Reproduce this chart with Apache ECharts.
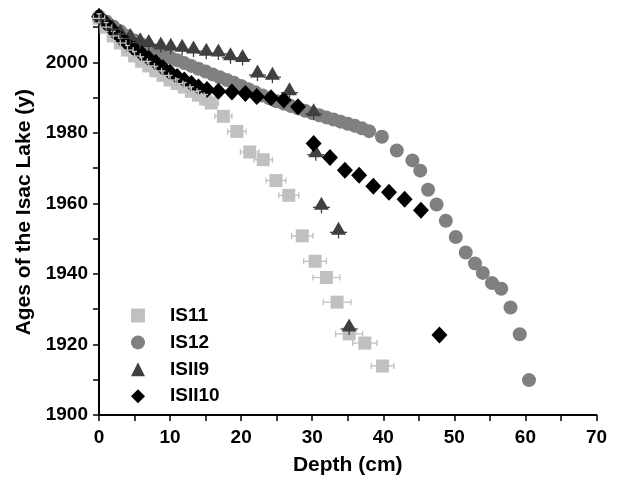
<!DOCTYPE html>
<html>
<head>
<meta charset="utf-8">
<script src="https://cdn.jsdelivr.net/npm/echarts@6/dist/echarts.min.js"></script>
<style>html,body{margin:0;padding:0;background:#fff}#c{width:619px;height:481px}</style>
</head>
<body>
<div id="c"></div>
<script>
// ---- Data ----
const seriesNames = ['IS11', 'IS12', 'ISII9', 'ISII10'];

const is11Depth = [0, 1, 2, 3, 4, 5, 6, 7, 8, 9, 10, 11, 12, 13, 14, 15, 15.8, 17.5, 19.4, 21.2, 23.1, 24.9, 26.7, 28.6, 30.4, 32.0, 33.5, 35.2, 37.4, 39.9];
const is11Age   = [2012.5, 2010, 2007.5, 2005.5, 2003.5, 2001.8, 2000.3, 1999, 1997.6, 1996.3, 1995, 1994, 1993, 1991.8, 1990.7, 1989.6, 1988.5, 1984.7, 1980.4, 1974.6, 1972.4, 1966.5, 1962.3, 1950.8, 1943.6, 1939, 1932, 1923, 1920.4, 1913.9];
const is11DepthErr = [0.8, 0.8, 0.8, 0.8, 0.8, 0.8, 0.8, 0.8, 0.8, 0.8, 0.8, 0.8, 0.8, 0.8, 0.8, 0.8, 1.0, 1.2, 1.3, 1.3, 1.3, 1.4, 1.4, 1.5, 1.6, 1.9, 1.95, 1.9, 1.7, 1.6];
const is11AgeErr   = [1.3, 1.3, 1.3, 1.3, 1.3, 1.3, 1.3, 1.3, 1.3, 1.3, 1.3, 1.3, 1.3, 1.3, 1.3, 1.3, 1.0, 0, 0, 0, 0, 0, 0, 0, 0, 0, 0, 0, 0, 0];

const is12Depth = [0, 1, 2, 3, 4, 5, 6, 7, 8, 9, 10, 11, 12, 13, 14, 15, 16, 17, 18, 19, 20, 21, 22, 23, 24, 25, 26, 27, 28, 29, 30, 31, 32, 33, 34, 35, 36, 37, 38, 39.8, 41.9, 44.1, 45.2, 46.3, 47.5, 48.8, 50.2, 51.6, 52.9, 54.0, 55.3, 56.6, 57.9, 59.2, 60.5];
const is12Age   = [2013, 2011.6, 2010.2, 2008.8, 2007.5, 2006.2, 2005.1, 2004.1, 2003.2, 2002.3, 2001.4, 2000.6, 1999.8, 1999, 1998.2, 1997.4, 1996.6, 1995.8, 1995, 1994.2, 1993.3, 1992.4, 1991.5, 1990.6, 1989.8, 1989, 1988.3, 1987.6, 1987, 1986.3, 1985.6, 1985, 1984.4, 1983.8, 1983.2, 1982.6, 1982, 1981.3, 1980.5, 1978.9, 1975, 1972.2, 1969.3, 1963.9, 1959.7, 1955.1, 1950.5, 1946.1, 1943, 1940.3, 1937.4, 1935.8, 1930.5, 1922.9, 1909.9];

const isii9Depth = [0.3, 1.9, 3.0, 4.4, 5.8, 7.0, 8.7, 10.1, 11.7, 13.3, 15.1, 16.8, 18.5, 20.2, 22.3, 24.4, 26.8, 30.2, 30.5, 31.3, 33.7, 35.2];
const isii9Age   = [2012.1, 2009.4, 2008, 2006.8, 2005.6, 2005.1, 2004.4, 2004, 2003.7, 2003.2, 2002.6, 2002.4, 2001.3, 2000.8, 1996.4, 1995.8, 1991.4, 1985.4, 1973.8, 1958.9, 1951.8, 1924.4];
const isii9DepthErr = [1.2, 1.2, 1.2, 1.2, 1.2, 1.2, 1.2, 1.2, 1.2, 1.2, 1.2, 1.2, 1.2, 1.2, 1.2, 1.2, 1.2, 1.2, 1.2, 1.2, 1.2, 1.2];
const isii9AgeErr   = [1.7, 1.7, 1.7, 1.7, 1.7, 1.7, 1.7, 1.7, 1.7, 1.7, 1.7, 1.7, 1.7, 1.7, 1.7, 1.7, 1.7, 1.7, 1.7, 1.7, 1.7, 1.7];

const isii10Depth = [0, 1, 2, 3, 4, 5, 6, 7, 8, 9, 10, 11, 12, 13, 14, 15.2, 16.8, 18.7, 20.6, 22.2, 24.2, 26.0, 28.0, 30.2, 32.5, 34.6, 36.6, 38.6, 40.8, 43.0, 45.3, 47.9];
const isii10Age   = [2013, 2011, 2009, 2007, 2005.3, 2003.8, 2002.5, 2001.2, 2000, 1998.5, 1997.2, 1996, 1995, 1994, 1993, 1992.3, 1991.8, 1991.6, 1991.2, 1990.3, 1990, 1989.3, 1987.4, 1977, 1973, 1969.4, 1968, 1964.9, 1963.2, 1961.2, 1958.1, 1922.7];

const xTickStep = 5;
const xLabelStep = 10;
const yTicks  = [1900, 1910, 1920, 1930, 1940, 1950, 1960, 1970, 1980, 1990, 2000, 2010];
const yLabels = [1900, 1920, 1940, 1960, 1980, 2000];

// ---- Build ----
const zip = (a, b) => a.map((v, i) => [v, b[i]]);
const zipErr = (a, b, ea, eb) => a.map((v, i) => [v, b[i], ea[i], eb[i]]);

function errRenderer(color, capX, capY) {
  return function (params, api) {
    const x = api.value(0), y = api.value(1), ex = api.value(2), ey = api.value(3);
    const style = { stroke: color, lineWidth: 1.3 };
    const kids = [];
    if (ex > 0) {
      const l = api.coord([x - ex, y]), r = api.coord([x + ex, y]);
      kids.push({ type: 'line', shape: { x1: l[0], y1: l[1], x2: r[0], y2: r[1] }, style });
      if (capX) {
        kids.push({ type: 'line', shape: { x1: l[0], y1: l[1] - capX, x2: l[0], y2: l[1] + capX }, style });
        kids.push({ type: 'line', shape: { x1: r[0], y1: r[1] - capX, x2: r[0], y2: r[1] + capX }, style });
      }
    }
    if (ey > 0) {
      const t = api.coord([x, y + ey]), b = api.coord([x, y - ey]);
      kids.push({ type: 'line', shape: { x1: t[0], y1: t[1], x2: b[0], y2: b[1] }, style });
      if (capY) {
        kids.push({ type: 'line', shape: { x1: t[0] - capY, y1: t[1], x2: t[0] + capY, y2: t[1] }, style });
        kids.push({ type: 'line', shape: { x1: b[0] - capY, y1: b[1], x2: b[0] + capY, y2: b[1] }, style });
      }
    }
    return { type: 'group', children: kids };
  };
}

const FONT = 'Liberation Sans, Arial, sans-serif';
const cIS11 = '#c0c0c0', cIS12 = '#808080', cISII9 = '#404040', cISII10 = '#000000';

const chart = echarts.init(document.getElementById('c'), null, { renderer: 'canvas' });
chart.setOption({
  animation: false,
  backgroundColor: '#ffffff',
  grid: { left: 99, right: 22.5, top: 9.5, bottom: 65.5, containLabel: false },
  legend: {
    orient: 'vertical', left: 131, top: 306, padding: 0,
    itemWidth: 14, itemHeight: 14, itemGap: 7.9,
    data: seriesNames,
    textStyle: { fontFamily: FONT, fontWeight: 'bold', fontSize: 19, color: '#000', padding: [0, 0, 0, 20] }
  },
  xAxis: {
    type: 'value', min: 0, max: 70, interval: xTickStep,
    name: 'Depth (cm)', nameLocation: 'middle', nameGap: 40,
    nameTextStyle: { fontFamily: FONT, fontWeight: 'bold', fontSize: 21, color: '#000' },
    axisLine: { show: true, onZero: false, lineStyle: { color: '#000', width: 2 } },
    axisTick: { show: true, inside: false, length: 6, lineStyle: { color: '#000', width: 1.5 } },
    axisLabel: { margin: 13, fontFamily: FONT, fontWeight: 'bold', fontSize: 19, color: '#000',
      formatter: v => (v % xLabelStep === 0 ? String(v) : '') },
    splitLine: { show: false }
  },
  yAxis: {
    type: 'value', min: 1900, max: 2015,
    name: 'Ages of the Isac Lake (y)', nameLocation: 'middle', nameGap: 52,
    nameTextStyle: { fontFamily: FONT, fontWeight: 'bold', fontSize: 21, color: '#000' },
    axisLine: { show: true, onZero: false, lineStyle: { color: '#000', width: 2 } },
    axisTick: { show: true, inside: false, length: 6, customValues: yTicks, lineStyle: { color: '#000', width: 1.5 } },
    axisLabel: { margin: 11, customValues: yLabels, fontFamily: FONT, fontWeight: 'bold', fontSize: 19, color: '#000',
      formatter: v => String(v) },
    splitLine: { show: false }
  },
  series: [
    { name: 'IS12', type: 'scatter', symbol: 'circle', symbolSize: 14, z: 2,
      itemStyle: { color: cIS12, opacity: 1 }, data: zip(is12Depth, is12Age) },
    { name: 'IS11', type: 'scatter', symbol: 'rect', symbolSize: 13, z: 3,
      itemStyle: { color: cIS11, opacity: 1 }, data: zip(is11Depth, is11Age) },
    { name: 'ISII9', type: 'scatter', symbol: 'triangle', symbolSize: [15, 13], symbolOffset: [0, -4], z: 4,
      itemStyle: { color: cISII9, opacity: 1 }, data: zip(isii9Depth, isii9Age) },
    { name: 'ISII10', type: 'scatter', symbol: 'diamond', symbolSize: [16, 17], z: 5,
      itemStyle: { color: cISII10, opacity: 1 }, data: zip(isii10Depth, isii10Age) },
    { name: 'IS11 err', type: 'custom', z: 6, silent: true,
      renderItem: errRenderer(cIS11, 3, 2.5), encode: { x: 0, y: 1 },
      data: zipErr(is11Depth, is11Age, is11DepthErr, is11AgeErr) },
    { name: 'ISII9 err', type: 'custom', z: 6, silent: true,
      renderItem: errRenderer(cISII9, 0, 0), encode: { x: 0, y: 1 },
      data: zipErr(isii9Depth, isii9Age, isii9DepthErr, isii9AgeErr) }
  ]
});
</script>
</body>
</html>
